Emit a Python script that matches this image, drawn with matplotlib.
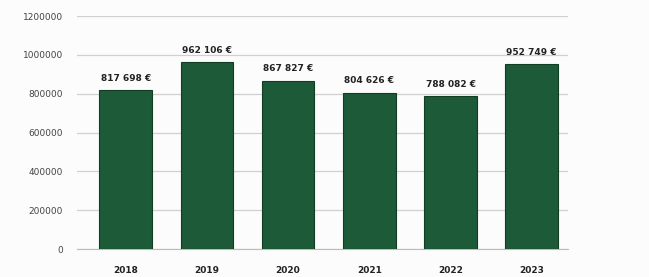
import matplotlib.pyplot as plt

years = ['2018', '2019', '2020', '2021', '2022', '2023']
values = [817698, 962106, 867827, 804626, 788082, 952749]
labels = ['817 698 €', '962 106 €', '867 827 €', '804 626 €', '788 082 €', '952 749 €']
yticks = [0, 200000, 400000, 600000, 800000, 1000000, 1200000]

fig = plt.figure(figsize=(6.49, 2.77), dpi=100)
fig.patch.set_facecolor('#fbfcfb')
ax = fig.add_axes([0.1186, 0.101, 0.757, 0.841])
ax.set_facecolor('#fbfcfb')

x = range(len(years))
ax.bar(x, values, width=0.65, color='#1d5a38', edgecolor='#123d25', linewidth=0.8, zorder=3)

for i, (v, lab) in enumerate(zip(values, labels)):
    ax.text(i, v + 38000, lab, ha='center', va='bottom', fontsize=6.5,
            fontweight='bold', color='#222222')

ax.set_ylim(0, 1200000)
ax.set_xlim(-0.6, 5.45)
ax.set_yticks(yticks)
ax.set_yticklabels([str(t) for t in yticks])
ax.set_xticks(list(x))
ax.set_xticklabels(years, fontweight='bold')
ax.grid(axis='y', color='#d0d0d0', linewidth=0.9, zorder=0)
ax.tick_params(axis='y', length=0, labelsize=6.5, labelcolor='#444444', pad=10)
ax.tick_params(axis='x', length=0, labelsize=6.5, labelcolor='#222222', pad=12)
for s in ['top', 'right', 'left']:
    ax.spines[s].set_visible(False)
ax.spines['bottom'].set_color('#bbbbbb')

fig.savefig('out.png', dpi=100, facecolor=fig.get_facecolor())
